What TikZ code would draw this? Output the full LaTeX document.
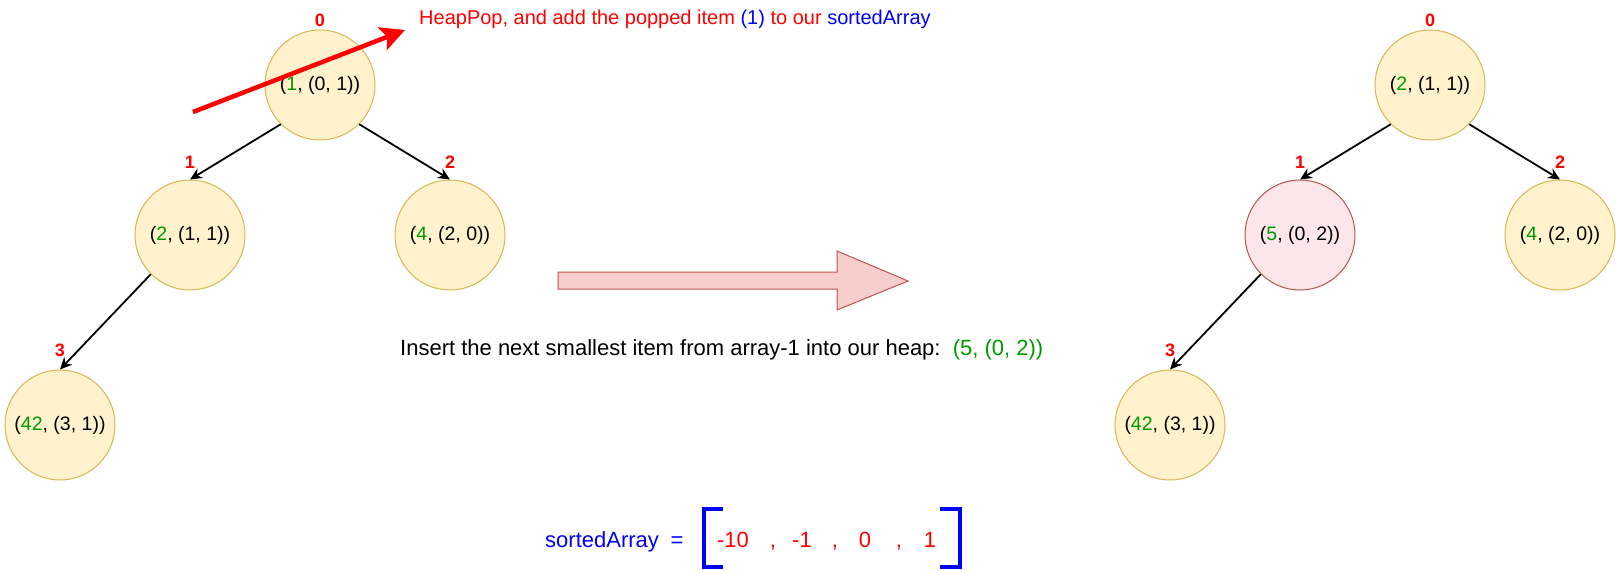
\documentclass[tikz,border=0pt]{standalone}
\usepackage{fontspec}
\setmainfont{Liberation Sans}
\usetikzlibrary{arrows.meta,positioning}

\definecolor{heapfill}{HTML}{FFF2CC}
\definecolor{heapline}{HTML}{D6B656}
\definecolor{newfill}{HTML}{FCE6EA}
\definecolor{newline}{HTML}{B85450}
\definecolor{bigfill}{HTML}{F8CECC}
\definecolor{keygreen}{HTML}{009900}
\newcommand{\key}[1]{\textcolor{keygreen}{#1}}

\begin{document}
\begin{tikzpicture}[x=1pt,y=-1pt,>={Stealth[length=12pt,width=11pt]},
    heap node/.style={circle,on grid,draw=heapline,fill=heapfill,line width=1pt,minimum size=110pt,inner sep=0pt,font=\fontsize{19.5}{23}\selectfont},
    new node/.style={heap node,draw=newline,fill=newfill},
    idx/.style={text=red,inner sep=0pt,font=\bfseries\fontsize{18}{21}\selectfont},
    txt/.style={inner sep=0pt,font=\fontsize{20}{24}\selectfont},
    row txt/.style={inner sep=0pt,font=\fontsize{22}{26}\selectfont},
    link/.style={->,line width=1.8pt}]

  \useasboundingbox (0,0) rectangle (1616,570);

  % heap before the pop
  \node[heap node] (a0) at (320,85) {(\key{1}, (0, 1))};
  \node[heap node] (a1) [below left=150pt and 130pt of a0] {(\key{2}, (1, 1))};
  \node[heap node] (a2) [below right=150pt and 130pt of a0] {(\key{4}, (2, 0))};
  \node[heap node] (a3) [below left=190pt and 130pt of a1] {(\key{42}, (3, 1))};
  \node[idx] (ia0) [above=3pt of a0] {0};
  \node[idx] (ia1) [above=11pt of a1] {1};
  \node[idx] (ia2) [above=11pt of a2] {2};
  \node[idx] (ia3) [above=13pt of a3] {3};
  \path[link] (a0.south west) edge (a1.north)
              (a0.south east) edge (a2.north)
              (a1.south west) edge (a3.north);

  % the pop
  \coordinate (popfrom) at (193,112);
  \coordinate (popto) at (405,30);
  \draw[red,line width=4.5pt,-{Stealth[length=24pt,width=24pt,inset=5pt]}] (popfrom) -- (popto);
  \node[txt,anchor=west,text=red] (popnote) at (419,19)
    {HeapPop, and add the popped item \textcolor{blue}{(1)} to our \textcolor{blue}{sortedArray}};

  % big arrow
  \draw[draw=newline,fill=bigfill,line width=1pt] (558,272) -- (837,272) -- (837,251)
    -- (908,281) -- (837,310) -- (837,289) -- (558,289) -- cycle;
  \node[row txt,anchor=west] (insnote) at (400,350)
    {Insert the next smallest item from array-1 into our heap:\ \ \key{(5, (0, 2))}};

  % heap after the insert
  \node[heap node] (b0) at (1430,85) {(\key{2}, (1, 1))};
  \node[new node] (b1) [below left=150pt and 130pt of b0] {(\key{5}, (0, 2))};
  \node[heap node] (b2) [below right=150pt and 130pt of b0] {(\key{4}, (2, 0))};
  \node[heap node] (b3) [below left=190pt and 130pt of b1] {(\key{42}, (3, 1))};
  \node[idx] (ib0) [above=3pt of b0] {0};
  \node[idx] (ib1) [above=11pt of b1] {1};
  \node[idx] (ib2) [above=11pt of b2] {2};
  \node[idx] (ib3) [above=13pt of b3] {3};
  \path[link] (b0.south west) edge (b1.north)
              (b0.south east) edge (b2.north)
              (b1.south west) edge (b3.north);

  % sorted array
  \node[row txt,anchor=base west,text=blue] (sortname) at (545,547) {sortedArray};
  \node[row txt,anchor=base,text=blue] (sorteq) at (677,547) {=};
  \draw[blue,line width=4.5pt] (723,509) -- (704,509) -- (704,567) -- (723,567);
  \draw[blue,line width=4.5pt] (940,509) -- (960,509) -- (960,567) -- (940,567);
  \node[row txt,anchor=base,text=red] (v0) at (733,547) {-10};
  \node[row txt,anchor=base,text=red] (c0) at (773,547) {,};
  \node[row txt,anchor=base,text=red] (v1) at (802,547) {-1};
  \node[row txt,anchor=base,text=red] (c1) at (835,547) {,};
  \node[row txt,anchor=base,text=red] (v2) at (865,547) {0};
  \node[row txt,anchor=base,text=red] (c2) at (899,547) {,};
  \node[row txt,anchor=base,text=red] (v3) at (930,547) {1};
\end{tikzpicture}
\end{document}
